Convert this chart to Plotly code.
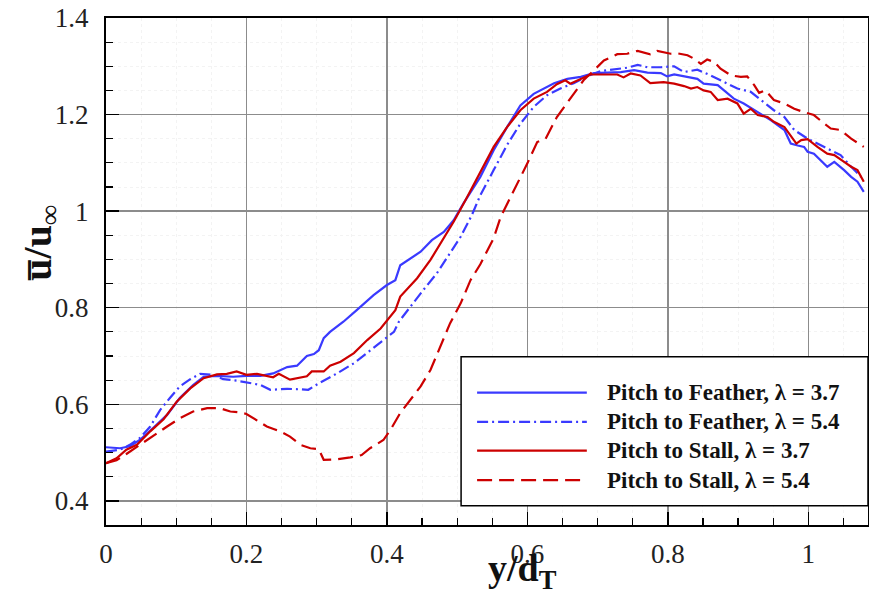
import plotly.graph_objects as go

# ---------------- data ----------------
pf37_x = [0, 0.02, 0.034, 0.048, 0.067, 0.087, 0.105, 0.124, 0.139, 0.158, 0.181, 0.2, 0.22, 0.238,
          0.258, 0.272, 0.286, 0.296, 0.303, 0.310, 0.319, 0.338, 0.357, 0.381, 0.400, 0.412, 0.419,
          0.433, 0.448, 0.464, 0.481, 0.495, 0.509, 0.533, 0.552, 0.571, 0.590, 0.609, 0.621, 0.638,
          0.657, 0.676, 0.695, 0.714, 0.733, 0.752, 0.771, 0.790, 0.799, 0.809, 0.823, 0.842, 0.851,
          0.871, 0.880, 0.894, 0.908, 0.928, 0.947, 0.966, 0.975, 0.985, 0.994, 0.999, 1.008, 1.027,
          1.037, 1.051, 1.061, 1.070, 1.079]
pf37_y = [0.511, 0.509, 0.513, 0.526, 0.551, 0.578, 0.613, 0.640, 0.657, 0.659, 0.657, 0.659, 0.659, 0.664,
          0.677, 0.680, 0.700, 0.704, 0.712, 0.737, 0.750, 0.771, 0.795, 0.826, 0.847, 0.857, 0.888,
          0.902, 0.916, 0.940, 0.957, 0.981, 1.016, 1.071, 1.126, 1.174, 1.219, 1.243, 1.252, 1.265,
          1.274, 1.278, 1.286, 1.287, 1.288, 1.292, 1.287, 1.286, 1.279, 1.283, 1.279, 1.274, 1.264,
          1.261, 1.250, 1.233, 1.223, 1.205, 1.188, 1.168, 1.140, 1.136, 1.133, 1.123, 1.119, 1.092,
          1.102, 1.085, 1.071, 1.061, 1.040]

pf54_x = [0, 0.02, 0.034, 0.048, 0.063, 0.077, 0.091, 0.105, 0.120, 0.134, 0.153, 0.167, 0.186, 0.2,
          0.22, 0.234, 0.258, 0.277, 0.288, 0.305, 0.329, 0.353, 0.376, 0.395, 0.410, 0.417, 0.433,
          0.452, 0.471, 0.490, 0.505, 0.521, 0.533, 0.552, 0.571, 0.590, 0.609, 0.628, 0.647, 0.666,
          0.685, 0.704, 0.723, 0.742, 0.757, 0.771, 0.790, 0.809, 0.823, 0.842, 0.861, 0.880, 0.899,
          0.918, 0.937, 0.951, 0.966, 0.980, 0.999, 1.013, 1.032, 1.046, 1.061, 1.075]
pf54_y = [0.502, 0.506, 0.516, 0.530, 0.554, 0.588, 0.613, 0.637, 0.652, 0.663, 0.661, 0.652, 0.649, 0.645,
          0.640, 0.630, 0.632, 0.631, 0.630, 0.645, 0.664, 0.685, 0.712, 0.733, 0.750, 0.771, 0.802,
          0.837, 0.871, 0.913, 0.947, 0.992, 1.033, 1.085, 1.137, 1.181, 1.216, 1.240, 1.254, 1.265,
          1.279, 1.290, 1.293, 1.297, 1.303, 1.298, 1.298, 1.300, 1.288, 1.293, 1.281, 1.267, 1.254,
          1.247, 1.226, 1.209, 1.195, 1.168, 1.150, 1.140, 1.126, 1.116, 1.092, 1.071]

ps37_x = [0, 0.015, 0.029, 0.044, 0.063, 0.082, 0.101, 0.120, 0.139, 0.158, 0.172, 0.186, 0.2, 0.215,
          0.238, 0.246, 0.262, 0.286, 0.293, 0.310, 0.319, 0.334, 0.353, 0.372, 0.391, 0.412, 0.419,
          0.443, 0.462, 0.481, 0.495, 0.512, 0.533, 0.552, 0.571, 0.590, 0.609, 0.628, 0.642, 0.654,
          0.661, 0.676, 0.690, 0.709, 0.728, 0.737, 0.747, 0.761, 0.775, 0.794, 0.809, 0.823, 0.833,
          0.842, 0.851, 0.861, 0.871, 0.885, 0.899, 0.908, 0.918, 0.928, 0.942, 0.951, 0.966, 0.983,
          0.990, 0.999, 1.013, 1.027, 1.037, 1.051, 1.061, 1.070, 1.079]
ps37_y = [0.478, 0.488, 0.506, 0.516, 0.544, 0.569, 0.606, 0.633, 0.654, 0.662, 0.663, 0.668, 0.661, 0.663,
          0.656, 0.663, 0.651, 0.658, 0.668, 0.668, 0.680, 0.688, 0.706, 0.733, 0.757, 0.795, 0.823,
          0.861, 0.899, 0.944, 0.978, 1.023, 1.081, 1.133, 1.174, 1.209, 1.233, 1.247, 1.263, 1.271,
          1.264, 1.274, 1.283, 1.283, 1.283, 1.277, 1.285, 1.281, 1.265, 1.267, 1.264, 1.259, 1.254,
          1.257, 1.250, 1.247, 1.230, 1.233, 1.223, 1.202, 1.212, 1.199, 1.195, 1.185, 1.174, 1.140,
          1.147, 1.149, 1.133, 1.119, 1.116, 1.102, 1.092, 1.085, 1.061]

ps54_x = [0, 0.015, 0.029, 0.048, 0.067, 0.087, 0.105, 0.124, 0.144, 0.162, 0.177, 0.191, 0.2, 0.215,
          0.229, 0.248, 0.262, 0.277, 0.291, 0.303, 0.310, 0.329, 0.348, 0.364, 0.376, 0.395, 0.405,
          0.419, 0.433, 0.448, 0.462, 0.476, 0.490, 0.505, 0.519, 0.533, 0.552, 0.562, 0.581, 0.600,
          0.614, 0.626, 0.642, 0.661, 0.680, 0.695, 0.709, 0.728, 0.742, 0.757, 0.775, 0.785, 0.804,
          0.813, 0.828, 0.837, 0.847, 0.856, 0.866, 0.875, 0.890, 0.904, 0.913, 0.923, 0.930, 0.939,
          0.951, 0.966, 0.980, 0.994, 1.008, 1.023, 1.032, 1.046, 1.061, 1.079]
ps54_y = [0.478, 0.484, 0.497, 0.516, 0.535, 0.554, 0.571, 0.585, 0.592, 0.592, 0.585, 0.583, 0.580, 0.566,
          0.554, 0.544, 0.533, 0.516, 0.509, 0.507, 0.485, 0.486, 0.490, 0.495, 0.509, 0.526, 0.547,
          0.582, 0.609, 0.637, 0.671, 0.719, 0.768, 0.809, 0.857, 0.890, 0.944, 0.988, 1.043, 1.099,
          1.143, 1.150, 1.195, 1.233, 1.271, 1.292, 1.312, 1.325, 1.326, 1.332, 1.325, 1.332, 1.326,
          1.327, 1.323, 1.316, 1.305, 1.314, 1.309, 1.295, 1.281, 1.278, 1.279, 1.261, 1.245, 1.250,
          1.230, 1.223, 1.212, 1.205, 1.199, 1.181, 1.171, 1.168, 1.150, 1.133]

series_names = ["Pitch to Feather, λ = 3.7", "Pitch to Feather, λ = 5.4",
                "Pitch to Stall, λ = 3.7", "Pitch to Stall, λ = 5.4"]

# ---------------- styles ----------------
BLUE = "rgb(58,58,255)"
RED = "rgb(204,0,0)"
styles = [
    dict(color=BLUE, width=2.2, dash="solid"),
    dict(color=BLUE, width=2.2, dash="11px,4px,2px,4px"),
    dict(color=RED, width=2.2, dash="solid"),
    dict(color=RED, width=2.2, dash="15px,7px"),
]
data = [(pf37_x, pf37_y), (pf54_x, pf54_y), (ps37_x, ps37_y), (ps54_x, ps54_y)]

SERIF = "Liberation Serif, Times New Roman, serif"

fig = go.Figure()
for (xs, ys), name, st in zip(data, series_names, styles):
    fig.add_trace(go.Scatter(x=xs, y=ys, mode="lines", name=name, line=st, showlegend=False))

# ---------------- axes ----------------
axis_common = dict(
    automargin=False,
    showline=True, linecolor="black", linewidth=2, mirror=True,
    ticks="inside", ticklen=13, tickwidth=1.5, tickcolor="black",
    showgrid=True, gridcolor="#8c8c8c", gridwidth=1.5, zeroline=False,
    tickfont=dict(family=SERIF, size=27, color="#222"),
    minor=dict(ticks="inside", ticklen=7, tickwidth=1.2, tickcolor="black",
               dtick=0.05, showgrid=True, gridcolor="#f3f3f3", griddash="dot", gridwidth=1),
)
fig.update_xaxes(range=[0, 1.085], dtick=0.2, tick0=0, ticklabelstandoff=4, **axis_common)
fig.update_yaxes(range=[0.35, 1.4], dtick=0.2, tick0=0, ticklabelstandoff=10, **axis_common)

# ---------------- axis titles ----------------
annotations = [
    dict(text="<b>y/d<sub>T</sub></b>", x=0.547, y=-0.040, xref="paper", yref="paper",
         xanchor="center", yanchor="top", showarrow=False,
         font=dict(family=SERIF, size=38, color="#111")),
    dict(text="<b>u\u0305/u<sub>∞</sub></b>", x=-0.087, y=0.555, xref="paper", yref="paper",
         xanchor="center", yanchor="middle", textangle=-90, showarrow=False,
         font=dict(family=SERIF, size=40, color="#111")),
]

# ---------------- custom legend ----------------
shapes = [dict(type="rect", xref="paper", yref="paper", x0=0.466, x1=1.0, y0=0.038, y1=0.332,
               fillcolor="white", line=dict(color="black", width=1.5), layer="above")]
row_y = [0.261, 0.2035, 0.1465, 0.0887]
for name, st, ry in zip(series_names, styles, row_y):
    shapes.append(dict(type="line", xref="paper", yref="paper", x0=0.487, x1=0.631, y0=ry, y1=ry,
                       line=st, layer="above"))
    annotations.append(dict(text="<b>" + name + "</b>", x=0.655, y=ry, xref="paper", yref="paper",
                            xanchor="left", yanchor="middle", showarrow=False,
                            font=dict(family=SERIF, size=23, color="#111")))

fig.update_layout(
    width=869, height=593,
    margin=dict(l=106, r=1, t=18, b=68, autoexpand=False),
    paper_bgcolor="white", plot_bgcolor="white",
    shapes=shapes, annotations=annotations,
    showlegend=False,
)

fig.write_html("out.html",
               config={"displayModeBar": False, "staticPlot": True},
               post_script="document.body.style.margin='0';document.body.style.padding='0';"
                           "document.body.style.overflow='hidden';")
